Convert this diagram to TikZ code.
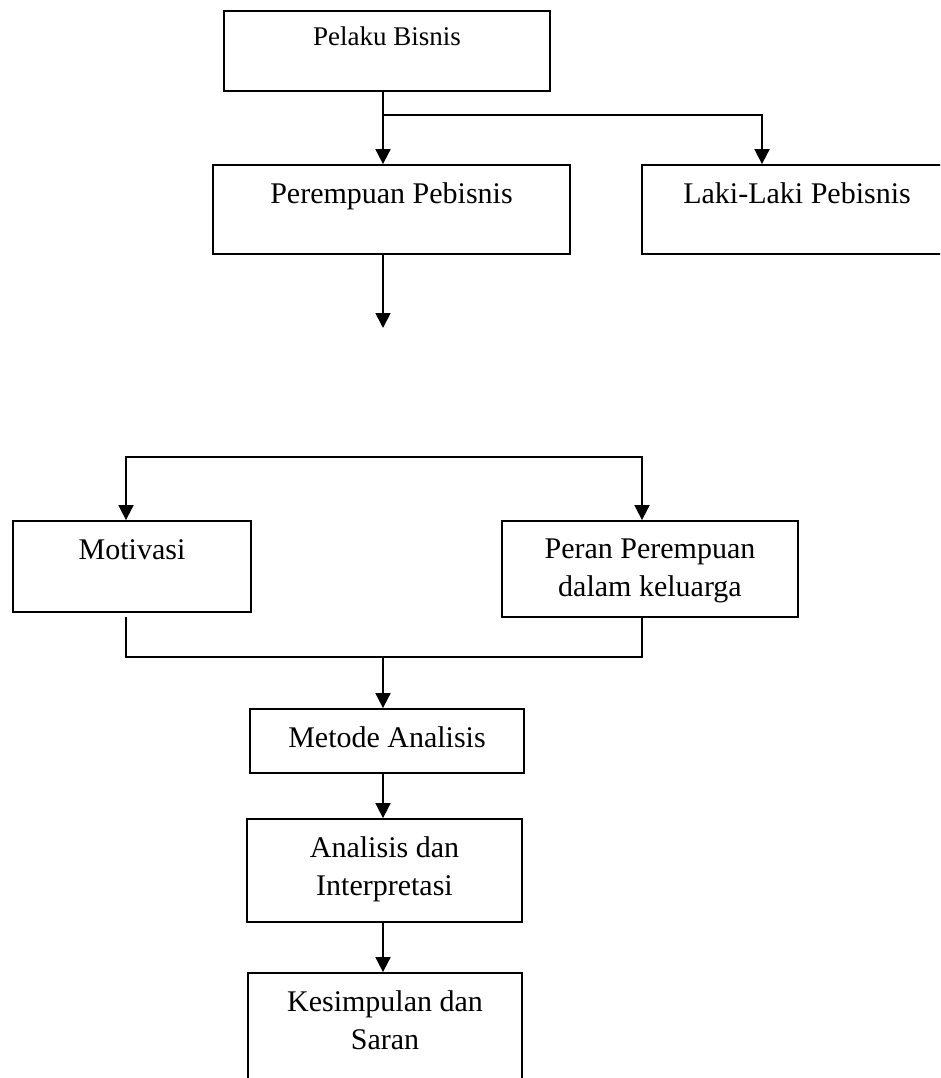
\documentclass[tikz,border=0pt]{standalone}
\usepackage{fontspec}
\setmainfont{Liberation Serif}
\usetikzlibrary{arrows.meta}
\tikzset{
  box/.style={draw, line width=1.8pt, inner sep=0pt, rectangle},
  lbl/.style={anchor=base, inner sep=0pt, font=\fontsize{30}{38}\selectfont},
  conn/.style={line width=1.8pt},
  arr/.style={conn, -{Triangle[width=15pt,length=15pt]}},
  arrboth/.style={conn, {Triangle[width=15pt,length=15pt]}-{Triangle[width=15pt,length=15pt]}},
}
\begin{document}
\begin{tikzpicture}[x=1pt,y=-1pt]
\path[use as bounding box] (0,0) rectangle (940,1078);
\clip (0,0) rectangle (940,1078);
% boxes
\node[box, minimum width=326pt, minimum height=80pt] (pelaku) at (387,51) {};
\node[box, minimum width=357pt, minimum height=89pt] (perempuan) at (391.5,209.5) {};
\node[box, minimum width=310pt, minimum height=89pt] (laki) at (797,209.5) {};
\node[box, minimum width=238pt, minimum height=91pt] (motivasi) at (132,566.5) {};
\node[box, minimum width=296pt, minimum height=96pt] (peran) at (650,569) {};
\node[box, minimum width=274pt, minimum height=64pt] (metode) at (387,741) {};
\node[box, minimum width=275pt, minimum height=103pt] (analisis) at (384.5,870.5) {};
\node[box, minimum width=274pt, minimum height=122pt] (kesimpulan) at (385,1034) {};
% texts
\node[lbl, font=\fontsize{27}{34}\selectfont] (pelaku-t) at (387,46) {Pelaku Bisnis};
\node[lbl] (perempuan-t) at (391.5,204) {Perempuan Pebisnis};
\node[lbl] (laki-t) at (797,204) {Laki-Laki Pebisnis};
\node[lbl] (motivasi-t) at (132,559) {Motivasi};
\node[lbl] (peran-t) at (650,558) {\begin{tabular}[t]{@{}c@{}}Peran Perempuan\\dalam keluarga\end{tabular}};
\node[lbl] (metode-t) at (387,747) {Metode Analisis};
\node[lbl] (analisis-t) at (384.5,857) {\begin{tabular}[t]{@{}c@{}}Analisis dan\\Interpretasi\end{tabular}};
\node[lbl] (kesimpulan-t) at (385,1011) {\begin{tabular}[t]{@{}c@{}}Kesimpulan dan\\Saran\end{tabular}};
% helper coordinates
\coordinate (tx) at (383,0);
\coordinate (lx) at (762,0);
\coordinate (ml) at (126,0);
\coordinate (pl) at (642,0);
\coordinate (b1) at (383,115);
\coordinate (free) at (383,328);
\coordinate (bt) at (0,457);
\coordinate (bb) at (0,657);
\coordinate (mstart) at (126,617);
% connectors
\draw[arr] (pelaku.south -| tx) -- (perempuan.north -| tx);
\draw[arr] (b1) -| (laki.north -| lx);
\draw[arr] (perempuan.south -| tx) -- (free);
\draw[arrboth] (motivasi.north -| ml) -- (ml |- bt) -- (pl |- bt) -- (peran.north -| pl);
\draw[conn] (mstart) -- (ml |- bb) -- (pl |- bb) -- (peran.south -| pl);
\draw[arr] (tx |- bb) -- (metode.north -| tx);
\draw[arr] (metode.south -| tx) -- (analisis.north -| tx);
\draw[arr] (analisis.south -| tx) -- (kesimpulan.north -| tx);
\end{tikzpicture}
\end{document}
